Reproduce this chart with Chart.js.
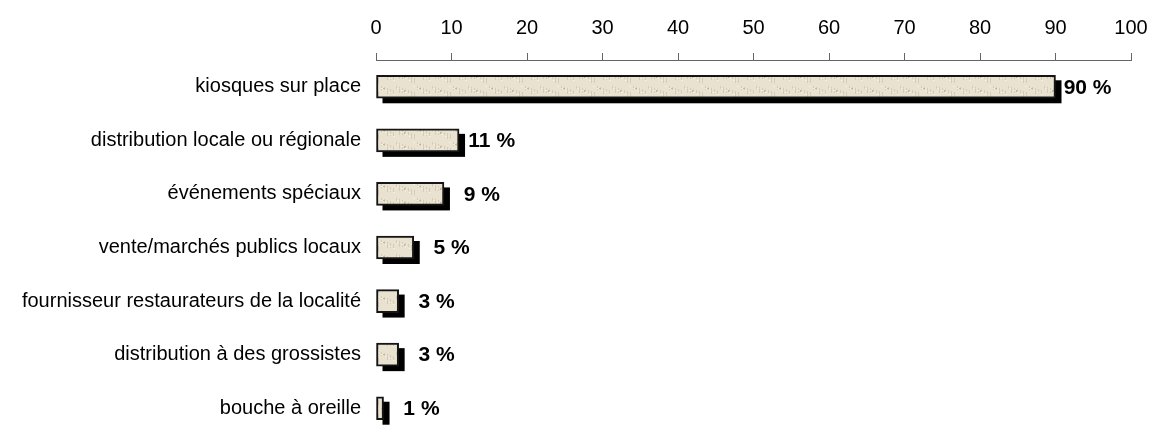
<!DOCTYPE html>
<html>
<head>
<meta charset="utf-8">
<script src="https://cdn.jsdelivr.net/npm/chart.js@4.4.1/dist/chart.umd.min.js"></script>
<style>
  html, body { margin: 0; padding: 0; background: #fff; overflow: hidden; }
  #wrap { width: 1155px; height: 435px; position: relative; }
</style>
</head>
<body>
<div id="wrap"><canvas id="chart"></canvas></div>
<script>
// Canaux de vente (pourcentage des répondants)
const categories = [
  "kiosques sur place",
  "distribution locale ou régionale",
  "événements spéciaux",
  "vente/marchés publics locaux",
  "fournisseur restaurateurs de la localité",
  "distribution à des grossistes",
  "bouche à oreille"
];
const values = [90, 11, 9, 5, 3, 3, 1];
const axisMin = 0;
const axisMax = 100;
const axisStep = 10;

const FONT = "'Liberation Sans', Arial, Helvetica, sans-serif";

// Beige textured fill tile
function makeTexture(ctx) {
  const tile = document.createElement('canvas');
  tile.width = 36; tile.height = 14;
  const t = tile.getContext('2d');
  t.fillStyle = '#e9e2d0';
  t.fillRect(0, 0, 36, 14);
  const dark = ['#d6cbb5', '#ddd3bf', '#d0c3ab'];
  for (let i = 0; i < 36; i += 3) {
    t.fillStyle = dark[i % 3];
    t.fillRect(i, (i * 5) % 7 + 2, 1, 3 + (i % 4));
  }
  t.fillStyle = '#f3efe4';
  for (let i = 1; i < 36; i += 4) {
    t.fillRect(i, (i * 3) % 10 + 1, 2, 1);
  }
  t.fillStyle = '#c4b79f';
  t.fillRect(8, 6, 1, 2);
  t.fillRect(23, 4, 2, 1);
  return ctx.createPattern(tile, 'repeat');
}

// Offset black shadow behind each bar
const barShadow = {
  id: 'barShadow',
  beforeDatasetsDraw(chart) {
    const ctx = chart.ctx;
    const meta = chart.getDatasetMeta(0);
    ctx.save();
    ctx.fillStyle = '#000';
    meta.data.forEach(el => {
      const p = el.getProps(['x', 'y', 'base', 'height'], true);
      const left = Math.min(p.base, p.x);
      const w = Math.abs(p.x - p.base);
      ctx.fillRect(left + 6, p.y - p.height / 2 + 5, w, p.height);
    });
    ctx.restore();
  }
};

// Percentage labels at the end of each bar
const valueLabels = {
  id: 'valueLabels',
  afterDatasetsDraw(chart) {
    const ctx = chart.ctx;
    const meta = chart.getDatasetMeta(0);
    const data = chart.data.datasets[0].data;
    ctx.save();
    ctx.font = 'bold 21px ' + FONT;
    ctx.fillStyle = '#000';
    ctx.textBaseline = 'middle';
    ctx.textAlign = 'left';
    meta.data.forEach((el, i) => {
      const p = el.getProps(['x', 'y'], true);
      const txt = data[i] + ' %';
      const w = ctx.measureText(txt).width;
      const x = Math.max(p.x + 8, p.x + 56 - w);
      ctx.fillText(txt, x, p.y + 1);
    });
    ctx.restore();
  }
};

const ctx = document.getElementById('chart').getContext('2d');
const texture = makeTexture(ctx);

new Chart(ctx, {
  type: 'bar',
  data: {
    labels: categories,
    datasets: [{
      data: values,
      backgroundColor: texture,
      borderColor: '#151515',
      borderWidth: 2,
      borderSkipped: false,
      barThickness: 23
    }]
  },
  options: {
    indexAxis: 'y',
    responsive: true,
    maintainAspectRatio: false,
    animation: false,
    layout: { padding: { top: 3, right: 24, left: 0, bottom: 0 } },
    plugins: {
      legend: { display: false },
      tooltip: { enabled: false }
    },
    scales: {
      x: {
        position: 'top',
        min: axisMin,
        max: axisMax,
        ticks: {
          stepSize: axisStep,
          color: '#000',
          padding: 13,
          font: { family: FONT, size: 20 }
        },
        grid: {
          drawOnChartArea: false,
          drawTicks: true,
          tickLength: 7,
          color: '#666'
        },
        border: { display: true, color: '#666', width: 1 },
        afterFit(scale) {
          scale.paddingLeft = 0;
          scale.paddingRight = 0;
        }
      },
      y: {
        ticks: {
          color: '#000',
          padding: 15,
          font: { family: FONT, size: 20 }
        },
        grid: { display: false, drawTicks: false, tickLength: 0 },
        border: { display: false },
        afterFit(scale) {
          scale.width = 376;
          scale.paddingTop = 0;
          scale.paddingBottom = 0;
        }
      }
    }
  },
  plugins: [barShadow, valueLabels]
});
</script>
</body>
</html>
